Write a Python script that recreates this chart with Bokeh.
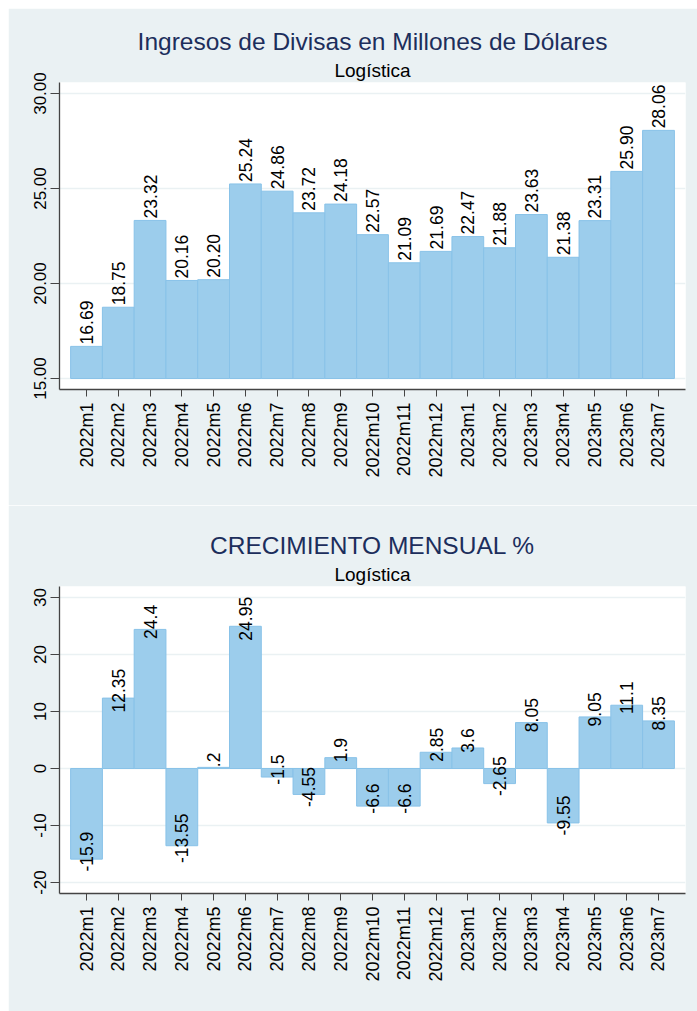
import math
from bokeh.plotting import figure
from bokeh.layouts import column
from bokeh.models import Range1d, FixedTicker, Title, ColumnDataSource
from bokeh.core.properties import value
from bokeh.embed import file_html
from bokeh.resources import INLINE

months = ["2022m1", "2022m2", "2022m3", "2022m4", "2022m5", "2022m6", "2022m7",
          "2022m8", "2022m9", "2022m10", "2022m11", "2022m12", "2023m1", "2023m2",
          "2023m3", "2023m4", "2023m5", "2023m6", "2023m7"]
ingresos = [16.69, 18.75, 23.32, 20.16, 20.20, 25.24, 24.86, 23.72, 24.18, 22.57,
            21.09, 21.69, 22.47, 21.88, 23.63, 21.38, 23.31, 25.90, 28.06]
crecimiento = [-15.9, 12.35, 24.4, -13.55, 0.2, 24.95, -1.5, -4.55, 1.9, -6.6,
               -6.6, 2.85, 3.6, -2.65, 8.05, -9.55, 9.05, 11.1, 8.35]
top_ticks = [15, 20, 25, 30]
bottom_ticks = [-20, -10, 0, 10, 20, 30]

BG = "#EAF1F3"
BAR_FILL = "#9CCDEC"
BAR_LINE = "#88C2E8"
TITLE_COLOR = "#1C2E5C"
FONT = "Liberation Sans"


def stata_fmt(v):
    s = ("%.2f" % v).rstrip("0").rstrip(".")
    if s.startswith("0."):
        s = s[1:]
    elif s.startswith("-0."):
        s = "-" + s[2:]
    return s


def base_fig(height, border_top, border_bottom, y0, y1, ticks, fmt):
    p = figure(width=689, height=height, output_backend="svg", toolbar_location=None,
               x_range=Range1d(0.15, len(months) + 0.85), y_range=Range1d(y0, y1),
               min_border_left=51, min_border_right=12,
               min_border_top=border_top, min_border_bottom=border_bottom)
    p.background_fill_color = "white"
    p.border_fill_color = BG
    p.outline_line_color = None
    p.xgrid.grid_line_color = None
    p.ygrid.grid_line_color = BG
    p.ygrid.grid_line_width = 1.5
    p.ygrid.ticker = FixedTicker(ticks=ticks)

    xa = p.xaxis[0]
    xa.ticker = FixedTicker(ticks=list(range(1, len(months) + 1)))
    xa.major_label_overrides = {i + 1: m for i, m in enumerate(months)}
    xa.major_label_orientation = math.pi / 2
    xa.major_label_text_font = FONT
    xa.major_label_text_font_size = "18px"
    xa.major_label_text_color = "black"
    xa.major_tick_out = 7
    xa.major_tick_in = 0
    xa.minor_tick_line_color = None
    xa.major_label_standoff = 6
    xa.axis_line_color = "#444444"
    xa.axis_line_width = 1.3
    xa.major_tick_line_color = "#444444"

    ya = p.yaxis[0]
    ya.ticker = FixedTicker(ticks=ticks)
    ya.major_label_overrides = {t: fmt(t) for t in ticks}
    ya.major_label_orientation = "vertical"
    ya.major_label_text_font = FONT
    ya.major_label_text_font_size = "17px"
    ya.major_label_text_color = "black"
    ya.major_tick_out = 9
    ya.major_tick_in = 0
    ya.minor_tick_line_color = None
    ya.major_label_standoff = 4
    ya.axis_line_color = "#444444"
    ya.axis_line_width = 1.3
    ya.major_tick_line_color = "#444444"
    return p


def add_titles(p, title, sub_standoff, title_standoff):
    p.add_layout(Title(text="Logística", align="center", text_font=FONT,
                       text_font_size="19px", text_font_style="normal",
                       text_color="black", standoff=sub_standoff), "above")
    p.add_layout(Title(text=title, align="center", text_font=FONT,
                       text_font_size="24.5px", text_font_style="normal",
                       text_color=TITLE_COLOR, standoff=title_standoff), "above")


xs = list(range(1, len(months) + 1))

# Top panel
p1 = base_fig(497, 74, 116, 14.42, 30.58, top_ticks, lambda t: "%.2f" % t)
src1 = ColumnDataSource(dict(x=xs, top=ingresos, lbl=["%.2f" % v for v in ingresos]))
p1.vbar(x="x", top="top", bottom=15, width=1, source=src1,
        fill_color=BAR_FILL, line_color=BAR_LINE, line_width=1)
p1.text(x="x", y="top", text="lbl", source=src1, angle=math.pi / 2,
        text_align="left", text_baseline="alphabetic", y_offset=-2,
        text_font=value(FONT), text_font_size="17.5px", text_color="black")
add_titles(p1, "Ingresos de Divisas en Millones de Dólares", 3, 4)

# Bottom panel
p2 = base_fig(506, 81, 118, -21.93, 31.93, bottom_ticks, lambda t: str(t))
src2 = ColumnDataSource(dict(x=xs, top=crecimiento, lbl=[stata_fmt(v) for v in crecimiento]))
p2.vbar(x="x", top="top", bottom=0, width=1, source=src2,
        fill_color=BAR_FILL, line_color=BAR_LINE, line_width=1)
p2.text(x="x", y="top", text="lbl", source=src2, angle=math.pi / 2,
        text_align="center", text_baseline="alphabetic", y_offset=-7.5,
        text_font=value(FONT), text_font_size="17.5px", text_color="black")
add_titles(p2, "CRECIMIENTO MENSUAL %", 3, 4)

layout = column(p1, p2, spacing=0, margin=(8, 0, 0, 8))
open("out.html", "w").write(file_html(layout, INLINE))
